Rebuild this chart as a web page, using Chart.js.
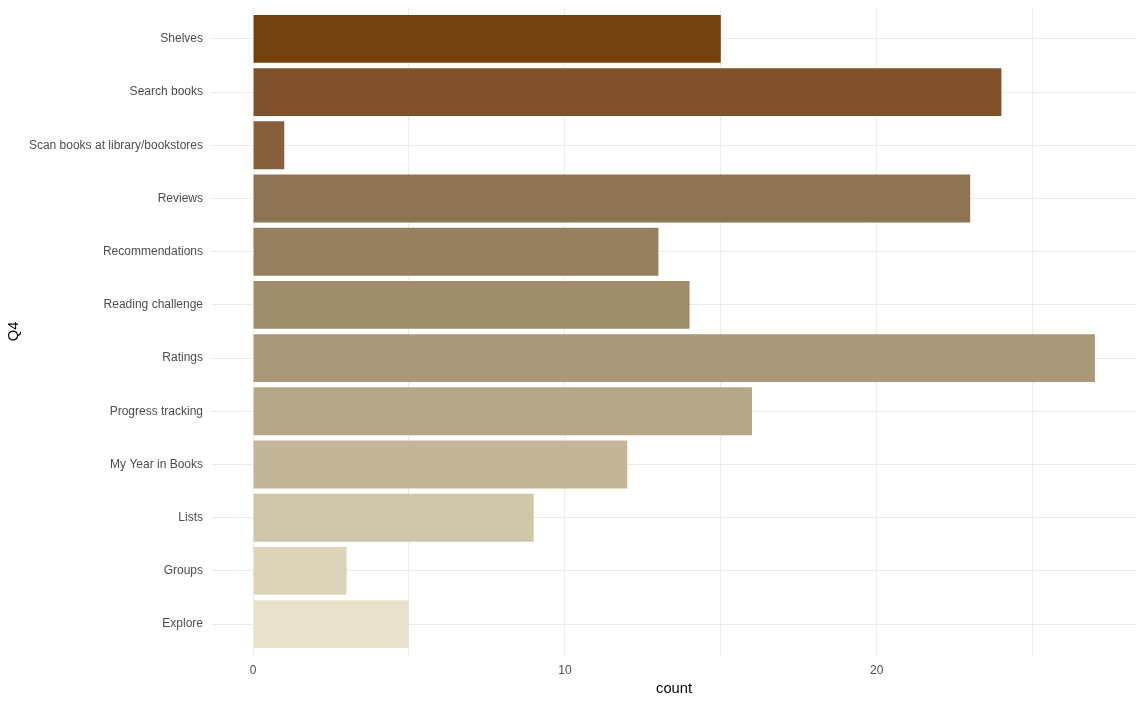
<!DOCTYPE html>
<html>
<head>
<meta charset="utf-8">
<script src="https://cdn.jsdelivr.net/npm/chart.js@4"></script>
<style>
  html, body { margin: 0; padding: 0; background: #ffffff; }
  #wrap { width: 1145px; height: 702px; position: relative; }
</style>
</head>
<body>
<div id="wrap"><canvas id="chart"></canvas></div>
<script>
// categories listed top to bottom
const categories = [
    'Shelves', 'Search books', 'Scan books at library/bookstores', 'Reviews',
    'Recommendations', 'Reading challenge', 'Ratings', 'Progress tracking',
    'My Year in Books', 'Lists', 'Groups', 'Explore'
];
const counts = [15, 24, 1, 23, 13, 14, 27, 16, 12, 9, 3, 5];
const xTicks = [0, 5, 10, 15, 20, 25];
const xTickLabels = ['0', '', '10', '', '20', ''];

const barColors = [
    '#74410E', '#7F5128', '#875F3C', '#8C7352', '#967F5F', '#A08D6C',
    '#AA9878', '#B7A789', '#C3B698', '#D0C6A9', '#DCD4B8', '#E8E2CB'
];

const gridColor = '#EBEBEB';
const tickFont = { family: 'Liberation Sans, Arial, sans-serif', size: 12 };
const titleFont = { family: 'Liberation Sans, Arial, sans-serif', size: 14.7 };

const points = categories.map((c, i) => ({ x: counts[i], y: i }));

const ctx = document.getElementById('chart').getContext('2d');
new Chart(ctx, {
    type: 'bar',
    data: {
        datasets: [{
            label: 'count',
            data: points,
            backgroundColor: barColors,
            borderWidth: 0,
            categoryPercentage: 1,
            barPercentage: 0.9
        }]
    },
    options: {
        indexAxis: 'y',
        responsive: true,
        maintainAspectRatio: false,
        animation: false,
        layout: { padding: { top: 7, right: 8, left: 0, bottom: 0 } },
        plugins: {
            legend: { display: false },
            tooltip: { enabled: false }
        },
        scales: {
            x: {
                type: 'linear',
                min: -1.35,
                max: 28.35,
                afterBuildTicks: scale => {
                    scale.ticks = xTicks.map(v => ({ value: v }));
                },
                afterFit: scale => {
                    scale.height = 46;
                    scale.paddingLeft = 0;
                    scale.paddingRight = 0;
                },
                border: { display: false },
                grid: { color: gridColor, lineWidth: 1, drawTicks: false },
                ticks: {
                    color: '#4D4D4D',
                    font: tickFont,
                    padding: 7,
                    maxRotation: 0,
                    callback: (v) => xTickLabels[xTicks.indexOf(v)] ?? ''
                },
                title: {
                    display: true,
                    text: 'count',
                    color: '#000000',
                    font: titleFont,
                    padding: { top: 0, bottom: 4 }
                }
            },
            y: {
                type: 'linear',
                reverse: true,
                offset: false,
                min: -0.6,
                max: 11.6,
                afterBuildTicks: scale => {
                    scale.ticks = categories.map((c, i) => ({ value: i }));
                },
                afterFit: scale => {
                    scale.width = 211;
                    scale.paddingTop = 0;
                    scale.paddingBottom = 0;
                },
                border: { display: false },
                grid: { color: gridColor, lineWidth: 1, drawTicks: false, offset: false },
                ticks: {
                    color: '#4D4D4D',
                    font: tickFont,
                    padding: 8,
                    callback: (v) => categories[v] ?? ''
                },
                title: {
                    display: true,
                    text: 'Q4',
                    color: '#000000',
                    font: titleFont,
                    padding: { top: 5, bottom: 0 }
                }
            }
        }
    }
});
</script>
</body>
</html>
